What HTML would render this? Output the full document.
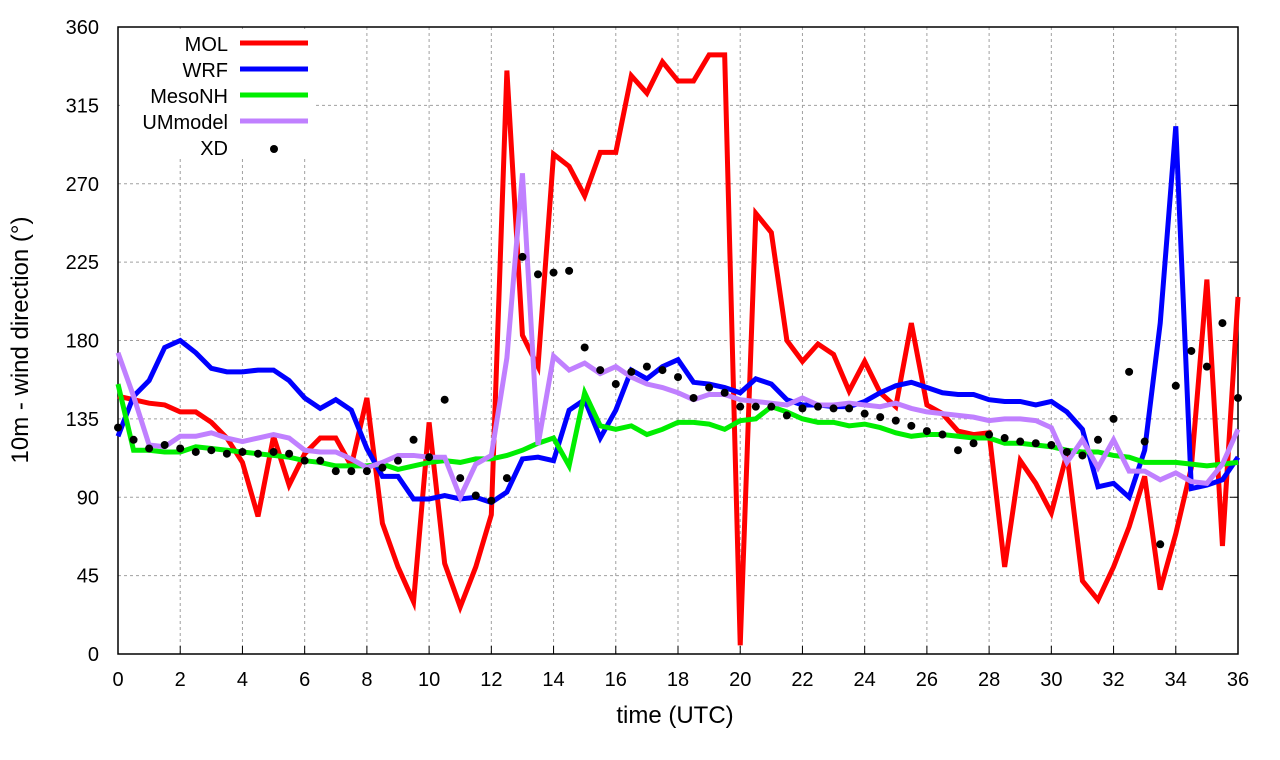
<!DOCTYPE html>
<html><head><meta charset="utf-8"><style>
html,body{margin:0;padding:0;background:#fff;}
svg{display:block;font-family:"Liberation Sans",sans-serif;}
</style></head><body>
<svg id="chart" width="1280" height="760" xmlns="http://www.w3.org/2000/svg">
<rect width="1280" height="760" fill="#fff"/>
<g id="grid"></g>
<g id="axes"></g>
<g id="series"></g>
<g id="legend"></g>
<text x="675" y="723" font-size="24" text-anchor="middle">time (UTC)</text>
<text transform="translate(28,340) rotate(-90)" font-size="24" text-anchor="middle">10m - wind direction (°)</text>
</svg>
<script>
const xTicks=[0,2,4,6,8,10,12,14,16,18,20,22,24,26,28,30,32,34,36];
const yTicks=[0,45,90,135,180,225,270,315,360];
const times=[];for(let i=0;i<=72;i++)times.push(i/2);
const mol=[148,146,144,143,139,139,133,124,110,79,125,97,115,124,124,108,147,75,50,30,133,52,27,50,80,335,183,165,287,280,263,288,288,332,322,340,329,329,344,344,5,253,242,180,168,178,172,151,168,150,142,190,143,138,128,126,127,50,111,98,81,115,42,31,50,73,102,37,69,107,215,62,205];
const wrf=[125,148,157,176,180,173,164,162,162,163,163,157,147,141,146,140,118,102,102,89,89,91,89,90,87,93,112,113,111,140,146,124,140,163,158,165,169,156,155,153,150,158,155,146,143,143,142,142,145,150,154,156,153,150,149,149,146,145,145,143,145,139,129,96,98,90,117,190,303,95,97,100,113];
const meso=[155,117,117,116,116,119,118,117,116,115,114,113,111,110,108,108,108,109,106,108,110,111,110,112,112,114,117,121,124,108,150,131,129,131,126,129,133,133,132,129,134,135,142,139,135,133,133,131,132,130,127,125,126,126,125,124,124,121,121,120,119,117,116,116,114,113,110,110,110,109,108,109,110];
const um=[173,148,120,119,125,125,127,124,122,124,126,124,117,116,116,112,107,110,114,114,113,113,90,109,114,170,276,120,171,163,167,161,165,159,155,153,150,146,149,149,146,145,144,143,147,143,143,144,143,142,144,141,139,138,137,136,134,135,135,134,130,110,123,107,123,105,105,100,104,99,98,109,129];
const xd=[130,123,118,120,118,116,117,115,116,115,116,115,111,111,105,105,105,107,111,123,113,146,101,91,88,101,228,218,219,220,176,163,155,162,165,163,159,147,153,150,142,142,142,137,141,142,141,141,138,136,134,131,128,126,117,121,126,124,122,121,120,116,114,123,135,162,122,63,154,174,165,190,147];
const seriesNames=["MOL","WRF","MesoNH","UMmodel"];
const NS="http://www.w3.org/2000/svg";
const X0=118,X1=1238,Y0=654,Y1=27;
const xs=t=>X0+(X1-X0)*t/36;
const ys=v=>Y0-(Y0-Y1)*v/360;
function mk(tag,attrs,parent){const e=document.createElementNS(NS,tag);for(const k in attrs)e.setAttribute(k,attrs[k]);parent.appendChild(e);return e;}
const grid=document.getElementById('grid'),axes=document.getElementById('axes'),ser=document.getElementById('series'),leg=document.getElementById('legend');
xTicks.forEach(t=>{
  const l=mk('line',{x1:xs(t),x2:xs(t),y1:Y0,y2:Y1,stroke:'#a0a0a0','stroke-width':1,'stroke-dasharray':'3,3'},grid);
  
  
  const tk=mk('line',{x1:xs(t),x2:xs(t),y1:Y0,y2:Y0-8,stroke:'#000'},axes);
  
  
  const tx=mk('text',{x:xs(t),y:686,'font-size':20,'text-anchor':'middle'},axes);tx.textContent=t;
  
  
});
yTicks.forEach(v=>{
  const l=mk('line',{x1:X0,x2:X1,y1:ys(v),y2:ys(v),stroke:'#a0a0a0','stroke-width':1,'stroke-dasharray':'3,3'},grid);
  
  
  const tx=mk('text',{x:99,y:ys(v)+7,'font-size':20,'text-anchor':'end'},axes);tx.textContent=v;
  
  
  const tk=mk('line',{x1:X1,x2:X1-8,y1:ys(v),y2:ys(v),stroke:'#000'},axes);
  
  
});
const fr=mk('rect',{x:X0,y:Y1,width:X1-X0,height:Y0-Y1,fill:'none',stroke:'#000','stroke-width':1.5},axes);


const colors=['#ff0000','#0000ff','#00ee00','#c080ff'];
const data=[mol,wrf,meso,um];
data.forEach((arr,i)=>{
  const p=mk('polyline',{points:arr.map((v,j)=>xs(times[j])+','+ys(v)).join(' '),fill:'none',stroke:colors[i],'stroke-width':5,'stroke-linejoin':'miter'},ser);
  
  
});
xd.forEach((v,j)=>{
  const c=mk('circle',{cx:xs(times[j]),cy:ys(v),r:4,fill:'#000'},ser);
  
  
});
const lb=mk('rect',{x:120,y:29,width:195,height:130,fill:'#fff'},leg);


const names=["MOL","WRF","MesoNH","UMmodel","XD"];
names.forEach((n,i)=>{
  const y=43+i*26;
  const t=mk('text',{x:228,y:y+8,'font-size':20,'text-anchor':'end'},leg);t.textContent=n;
  
  
  if(i<4){const l=mk('line',{x1:240,x2:308,y1:y,y2:y,stroke:colors[i],'stroke-width':5},leg);
    
    }
  else{const c=mk('circle',{cx:274,cy:y+2,r:4,fill:'#000'},leg);
    
    }
});
</script>
</body></html>
